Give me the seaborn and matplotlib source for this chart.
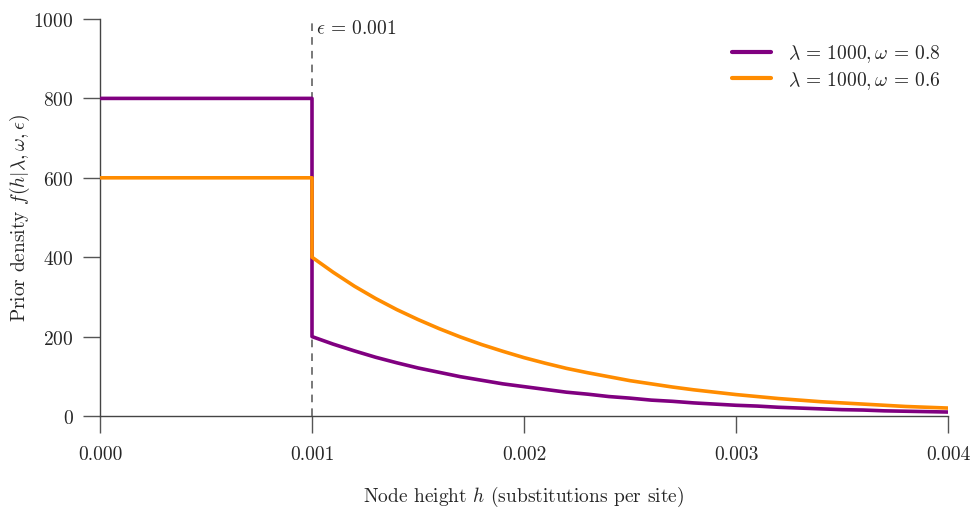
import numpy as np
import pandas as pd
import matplotlib
matplotlib.use("Agg")
import matplotlib.pyplot as plt
import seaborn as sns

# ---- data ----
h_flat = [0.0, 0.001]
h_tail = [0.0010, 0.0011, 0.0012, 0.0013, 0.0014, 0.0015, 0.0016, 0.0017, 0.0018, 0.0019,
          0.0020, 0.0021, 0.0022, 0.0023, 0.0024, 0.0025, 0.0026, 0.0027, 0.0028, 0.0029,
          0.0030, 0.0031, 0.0032, 0.0033, 0.0034, 0.0035, 0.0036, 0.0037, 0.0038, 0.0039,
          0.0040]
purple_flat = [800, 800]
purple_tail = [200, 181, 164, 148, 134, 121, 110, 99, 90, 81,
               74, 67, 60, 55, 49, 45, 40, 37, 33, 30,
               27, 25, 22, 20, 18, 16, 15, 13, 12, 11,
               10]
orange_flat = [600, 600]
orange_tail = [400, 362, 327, 296, 268, 243, 220, 199, 180, 163,
               147, 133, 120, 109, 99, 89, 81, 73, 66, 60,
               54, 49, 44, 40, 36, 33, 30, 27, 24, 22,
               20]
series_names = [r"$\lambda\,=\,1000, \omega\,=\,0.8$", r"$\lambda\,=\,1000, \omega\,=\,0.6$"]
epsilon = 0.001
x_ticks = [0.000, 0.001, 0.002, 0.003, 0.004]
x_ticklabels = ["0.000", "0.001", "0.002", "0.003", "0.004"]
y_ticks = [0, 200, 400, 600, 800, 1000]

rows = []
for name, flat, tail in [(series_names[0], purple_flat, purple_tail),
                         (series_names[1], orange_flat, orange_tail)]:
    for x, y in zip(h_flat + h_tail, flat + tail):
        rows.append({"h": x, "density": y, "series": name})
df = pd.DataFrame(rows)

sns.set_theme(style="ticks")
plt.rcParams["font.family"] = ["cmr10"]
plt.rcParams["mathtext.fontset"] = "cm"
plt.rcParams["axes.formatter.use_mathtext"] = True
plt.rcParams["axes.unicode_minus"] = False

FS = 14

fig = plt.figure(figsize=(9.71, 5.10), dpi=100)
ax = fig.add_axes([100 / 971, 1 - 417 / 510, 848 / 971, 397 / 510])

ax.axvline(epsilon, ymin=0, ymax=1, color="#555555", linestyle=(0, (5, 4)), linewidth=1.1, zorder=1)
ax.text(epsilon + 0.00002, 978, r"$\epsilon\,=\,0.001$", fontsize=FS, va="center", ha="left")

sns.lineplot(data=df, x="h", y="density", hue="series",
             palette=["#800080", "#FF8C00"], estimator=None, sort=False,
             linewidth=2.6, ax=ax, zorder=3)

ax.set_xlim(0, 0.004)
ax.set_ylim(0, 1000)
ax.set_xticks(x_ticks)
ax.set_xticklabels(x_ticklabels)
ax.set_yticks(y_ticks)
ax.tick_params(axis="both", length=12, width=1.0, color="#555555", labelsize=FS)
ax.tick_params(axis="x", pad=9)
ax.tick_params(axis="y", pad=7)
for s in ["top", "right"]:
    ax.spines[s].set_visible(False)
for s in ["left", "bottom"]:
    ax.spines[s].set_color("#444444")
    ax.spines[s].set_linewidth(1.0)

ax.set_xlabel(r"Node height $h$ (substitutions per site)", fontsize=FS)
ax.set_ylabel(r"Prior density $f(h|\lambda, \omega, \epsilon)$", fontsize=FS)
ax.xaxis.label.set_va("center")
ax.yaxis.label.set_va("center")
ax.xaxis.set_label_coords(0.5, (417 - 497) / 397)
ax.yaxis.set_label_coords((20 - 100) / 848, 0.5)

leg = ax.legend(loc="upper right", frameon=False, fontsize=FS, handlelength=2.0,
                handletextpad=0.9, labelspacing=0.25, bbox_to_anchor=(1.012, 0.985))
for line in leg.get_lines():
    line.set_linewidth(3)

fig.savefig("out.png", dpi=100)
